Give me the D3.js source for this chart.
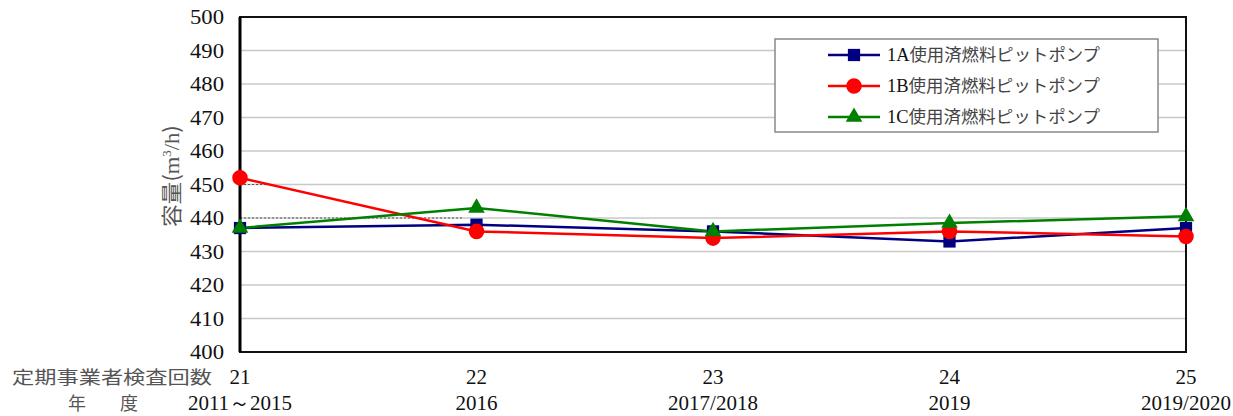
<!DOCTYPE html>
<html><head><meta charset="utf-8">
<script src="https://cdn.jsdelivr.net/npm/d3@7"></script>
<style>body{margin:0;background:#fff}svg{display:block}</style>
</head><body>
<script>
const inspections = ["21","22","23","24","25"];
const years = ["2011～2015","2016","2017/2018","2019","2019/2020"];
const seriesNames = ["1A使用済燃料ピットポンプ","1B使用済燃料ピットポンプ","1C使用済燃料ピットポンプ"];
const pumpA = [437, 438, 436, 433, 437];
const pumpB = [452, 436, 434, 436, 434.5];
const pumpC = [437, 443, 436, 438.5, 440.5];
const yTicks = [400,410,420,430,440,450,460,470,480,490,500];

const W=1233,H=416;
const svg=d3.select("body").append("svg").attr("width",W).attr("height",H);
const m={l:240,r:1186,t:17,b:352};
const x=d3.scalePoint().domain(inspections).range([m.l,m.r]);
const y=d3.scaleLinear().domain([400,500]).range([m.b,m.t]);
const serif="'Liberation Serif','Times New Roman',serif";
const jp="'Noto Sans CJK JP',sans-serif";

// grid
svg.append("g").selectAll("line").data(yTicks.slice(1,-1)).join("line")
  .attr("x1",m.l).attr("x2",m.r).attr("y1",d=>y(d)).attr("y2",d=>y(d))
  .attr("stroke","#c8c8c8").attr("stroke-width",1.5);
// dotted segments seen on the first interval
[[450,266],[440,462]].forEach(([v,x2])=>{
  svg.append("line").attr("x1",m.l).attr("x2",x2).attr("y1",y(v)).attr("y2",y(v))
    .attr("stroke","#555").attr("stroke-width",1).attr("stroke-dasharray","2,2");
});

// y axis
const ya=svg.append("g").attr("transform",`translate(${m.l},0)`)
  .call(d3.axisLeft(y).tickValues(yTicks).tickSize(0).tickPadding(16));
ya.select(".domain").remove();
ya.selectAll("text").attr("font-family",serif).attr("font-size",21).attr("fill","#111")
  .attr("textLength",34).attr("lengthAdjust","spacingAndGlyphs");

// frame
svg.append("rect").attr("x",m.l).attr("y",m.t).attr("width",m.r-m.l).attr("height",m.b-m.t)
  .attr("fill","none").attr("stroke","#111").attr("stroke-width",2);
svg.append("line").attr("x1",m.l).attr("x2",m.l).attr("y1",m.t).attr("y2",m.b).attr("stroke","#000").attr("stroke-width",3);

// y title
const yt=svg.append("text").attr("transform",`translate(179,176) rotate(-90)`)
  .attr("text-anchor","middle").attr("font-size",21).attr("fill","#555")
  .attr("textLength",102).attr("lengthAdjust","spacingAndGlyphs");
yt.append("tspan").attr("font-family",jp).text("容量(");
yt.append("tspan").attr("font-family",serif).text("m");
yt.append("tspan").attr("font-family",serif).attr("font-size",12).attr("dy",-8).text("3");
yt.append("tspan").attr("font-family",serif).attr("dy",8).text("/h");
yt.append("tspan").attr("font-family",jp).text(")");

// x labels
const xl=svg.append("g");
xl.selectAll("text.a").data(inspections).join("text").attr("class","a")
  .attr("x",d=>x(d)).attr("y",384).attr("text-anchor","middle")
  .attr("font-family",serif).attr("font-size",21).attr("fill","#111").text(d=>d);
xl.selectAll("text.b").data(years).join("text").attr("class","b")
  .attr("x",(d,i)=>x(inspections[i])).attr("y",410).attr("text-anchor","middle")
  .attr("font-family",serif).attr("font-size",21).attr("fill","#111").text(d=>d);
svg.append("text").attr("x",12).attr("y",384)
  .attr("font-family",jp).attr("font-size",18).attr("fill","#555")
  .attr("textLength",200).attr("lengthAdjust","spacingAndGlyphs").text("定期事業者検査回数");
svg.append("text").attr("x",68).attr("y",410)
  .attr("font-family",jp).attr("font-size",18).attr("fill","#555").text("年");
svg.append("text").attr("x",120).attr("y",410)
  .attr("font-family",jp).attr("font-size",18).attr("fill","#555").text("度");

// series
const series=[
  {name:seriesNames[0],vals:pumpA,color:"#000080",shape:d3.symbolSquare,size:150},
  {name:seriesNames[1],vals:pumpB,color:"#ff0000",shape:d3.symbolCircle,size:190},
  {name:seriesNames[2],vals:pumpC,color:"#008000",shape:d3.symbolTriangle,size:120}
];
const line=d3.line().x((d,i)=>x(inspections[i])).y(d=>y(d));
series.forEach(s=>{
  svg.append("path").attr("d",line(s.vals)).attr("fill","none").attr("stroke",s.color).attr("stroke-width",2.5);
});
series.forEach(s=>{
  svg.append("g").selectAll("path").data(s.vals).join("path")
    .attr("d",d3.symbol().type(s.shape).size(s.size))
    .attr("transform",(d,i)=>`translate(${x(inspections[i])},${y(d)})`)
    .attr("fill",s.color);
});

// legend
const lg=svg.append("g");
lg.append("rect").attr("x",775).attr("y",39).attr("width",383).attr("height",93)
  .attr("fill","#fff").attr("stroke","#888").attr("stroke-width",1.5);
series.forEach((s,i)=>{
  const cy=55+i*31;
  lg.append("line").attr("x1",828).attr("x2",880).attr("y1",cy).attr("y2",cy).attr("stroke",s.color).attr("stroke-width",2.5);
  lg.append("path").attr("d",d3.symbol().type(s.shape).size(s.size)).attr("transform",`translate(854,${cy})`).attr("fill",s.color);
  const t=lg.append("text").attr("x",887).attr("y",cy+6).attr("font-size",17).attr("fill","#444")
    .attr("textLength",213).attr("lengthAdjust","spacingAndGlyphs");
  t.append("tspan").attr("font-family",serif).attr("font-size",18).attr("fill","#111").text(s.name.slice(0,2));
  t.append("tspan").attr("font-family",jp).text(s.name.slice(2));
});
</script>
</body></html>
